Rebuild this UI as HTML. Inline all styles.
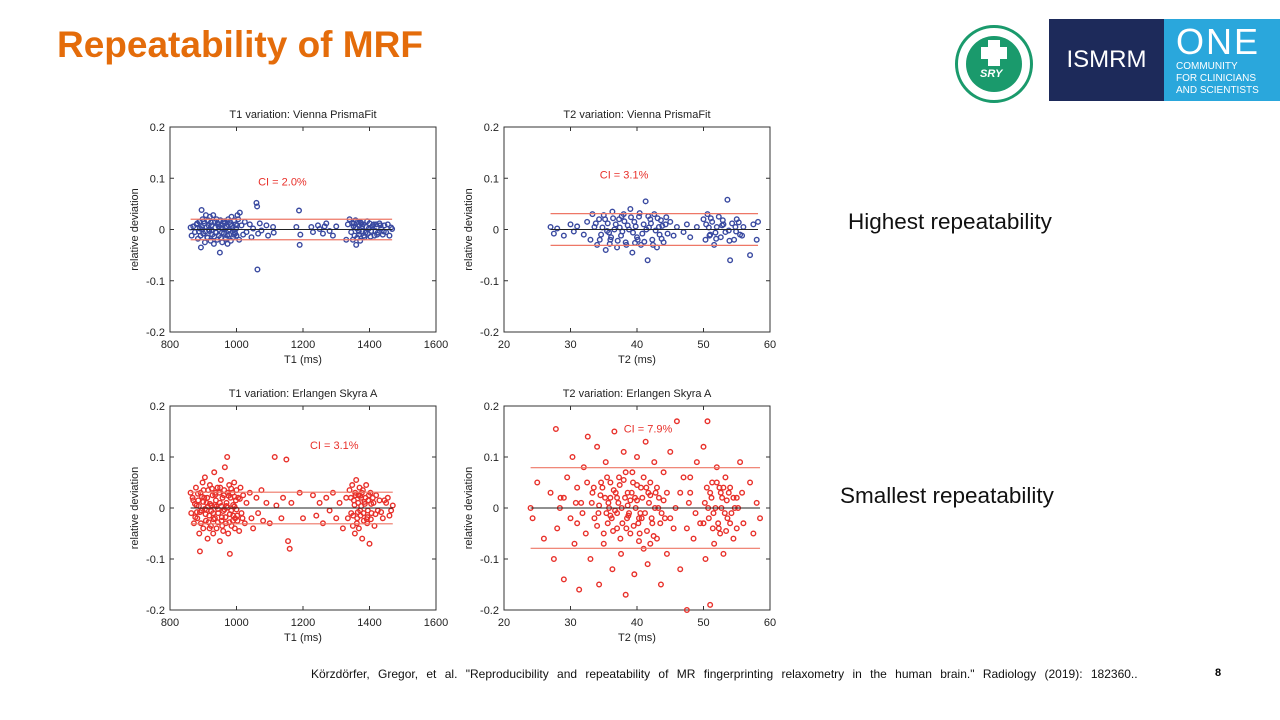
<!DOCTYPE html>
<html><head><meta charset="utf-8">
<style>
body{margin:0;width:1280px;height:720px;background:#fff;position:relative;overflow:hidden;font-family:"Liberation Sans",sans-serif}
.abs{position:absolute}
</style></head><body>
<div class="abs" style="left:57px;top:24px;font-size:37px;font-weight:bold;color:#e46c0a">Repeatability of MRF</div>
<div class="abs" style="left:955px;top:25px;width:78px;height:78px;border:3px solid #1a9a6c;border-radius:50%;box-sizing:border-box;background:#fff">
 <div style="position:absolute;left:8px;top:8px;width:56px;height:56px;border-radius:50%;background:#1a9a6c"></div>
 <div style="position:absolute;left:30px;top:12px;width:12px;height:26px;background:#fff"></div>
 <div style="position:absolute;left:23px;top:19px;width:26px;height:12px;background:#fff"></div>
 <div style="position:absolute;left:22px;top:40px;font-size:11px;font-weight:bold;font-style:italic;color:#fff">SRY</div>
</div>
<div class="abs" style="left:1049px;top:19px;width:115px;height:82px;background:#1d2a5a;color:#fff;font-size:24px;line-height:82px;text-align:center">ISMRM</div>
<div class="abs" style="left:1164px;top:19px;width:116px;height:82px;background:#2aa7dc;color:#fff">
 <div style="position:absolute;left:12px;top:2px;font-size:36px;letter-spacing:2px">ONE</div>
 <div style="position:absolute;left:12px;top:42px;font-size:10px;line-height:12px">COMMUNITY<br>FOR CLINICIANS<br>AND SCIENTISTS</div>
</div>
<div class="abs" style="left:848px;top:209px;font-size:22.5px;color:#111">Highest repeatability</div>
<div class="abs" style="left:840px;top:483px;font-size:22.5px;color:#111">Smallest repeatability</div>
<div class="abs" style="left:311px;top:667px;font-size:12px;color:#111;word-spacing:5px">Körzdörfer, Gregor, et al. "Reproducibility and repeatability of MR fingerprinting relaxometry in the human brain." Radiology (2019): 182360..</div>
<div class="abs" style="left:1215px;top:667px;font-size:11px;font-weight:bold">8</div>
<svg id="charts" class="abs" style="left:0;top:0" width="1280" height="720"></svg>
<script>
const t1Ticks=[800,1000,1200,1400,1600];
const t2Ticks=[20,30,40,50,60];
const yTicks=[0.2,0.1,0,-0.1,-0.2];
const yTickLabels=["0.2","0.1","0","-0.1","-0.2"];
const ciValues=[0.020,0.031,0.031,0.079];
const ciLabels=["CI = 2.0%","CI = 3.1%","CI = 3.1%","CI = 7.9%"];
const titles=["T1 variation: Vienna PrismaFit","T2 variation: Vienna PrismaFit","T1 variation: Erlangen Skyra A","T2 variation: Erlangen Skyra A"];
const xLabels=["T1 (ms)","T2 (ms)","T1 (ms)","T2 (ms)"];
const t1Vienna=[[862,0.004],[865,-0.012],[870,0.006],[875,-0.005],[880,0.01],[884,-0.018],[888,0.015],[890,0.002],[893,-0.035],[895,0.038],[898,0.02],[900,-0.008],[903,0.012],[905,-0.025],[908,0.028],[910,0.005],[912,-0.015],[915,0.018],[918,-0.003],[920,0.025],[922,-0.022],[925,0.008],[927,-0.01],[930,0.028],[932,-0.028],[935,0.015],[937,-0.005],[940,0.02],[942,-0.02],[945,0.01],[947,-0.012],[950,-0.045],[952,0.018],[955,0.003],[957,-0.025],[960,0.015],[962,-0.008],[965,0.012],[968,-0.018],[970,0.006],[973,-0.028],[975,0.02],[978,-0.01],[980,0.015],[983,-0.022],[985,0.025],[988,0.003],[990,-0.015],[993,0.018],[995,-0.005],[998,0.01],[1000,-0.012],[1003,0.028],[1005,0.02],[1008,-0.02],[1010,0.033],[1015,0.008],[1020,-0.01],[1025,0.015],[1030,-0.005],[1040,0.01],[1045,-0.015],[1050,0.002],[1060,0.052],[1062,0.045],[1063,-0.078],[1065,-0.008],[1070,0.012],[1075,-0.002],[1090,0.008],[1095,-0.012],[1110,0.005],[1112,-0.006],[1180,0.005],[1188,0.037],[1190,-0.03],[1192,-0.01],[1225,0.005],[1230,-0.005],[1245,0.008],[1250,0.001],[1260,-0.008],[1265,0.006],[1270,0.012],[1280,-0.003],[1290,-0.012],[1300,0.006],[1330,-0.02],[1335,0.01],[1340,0.02],[1345,-0.005],[1348,0.012],[1350,-0.02],[1352,0.006],[1355,-0.012],[1358,0.018],[1360,-0.03],[1362,0.002],[1365,0.015],[1368,-0.01],[1370,0.008],[1372,-0.022],[1375,0.012],[1378,-0.004],[1380,0.01],[1385,-0.015],[1390,0.005],[1395,-0.008],[1400,0.012],[1405,-0.003],[1410,0.008],[1415,-0.012],[1420,0.01],[1425,-0.006],[1430,0.012],[1435,0.002],[1440,-0.01],[1445,0.008],[1450,-0.005],[1455,0.01],[1460,-0.012],[1465,0.004],[1468,0.001],
[896,0.005],[906,-0.004],[916,0.008],[926,-0.002],[936,0.004],[946,0.006],[956,-0.006],[966,0.003],[976,-0.003],[986,0.007],[996,-0.008],[1358,0.004],[1368,-0.004],[1378,0.006],[1388,-0.006],[1398,0.002],[1408,0.005],[1418,-0.003],
[882,0.012],[892,-0.012],[902,0.016],[913,-0.016],[923,0.014],[933,-0.014],[943,0.012],[953,-0.016],[963,0.016],[972,-0.012],[982,0.01],[992,-0.01],[1002,0.008],[887,-0.004],[897,0.0],[917,0.0],[939,-0.006],[959,0.001],[979,0.0],[999,0.002],[1353,0.012],[1363,-0.016],[1373,0.014],[1383,-0.012],[1393,0.016],[1403,-0.014],[1413,0.01],[1423,-0.01],[1433,0.008],[1443,-0.004]];
const t2Vienna=[[27,0.005],[27.5,-0.008],[28,0.002],[29,-0.012],[30,0.01],[30.5,-0.004],[31,0.006],[32,-0.01],[32.5,0.015],[33,-0.02],[33.3,0.03],[33.6,0.005],[34,-0.03],[34.3,0.02],[34.6,-0.01],[35,0.028],[35.3,-0.04],[35.6,0.012],[36,-0.02],[36.3,0.035],[36.6,0.0],[37,-0.035],[37.3,0.02],[37.6,-0.012],[38,0.03],[38.3,-0.025],[38.6,0.008],[39,0.04],[39.3,-0.045],[39.6,0.015],[40,-0.015],[40.3,0.025],[40.6,-0.03],[41,0.01],[41.3,0.055],[41.6,-0.06],[42,0.02],[42.3,-0.02],[42.6,0.03],[43,-0.035],[43.3,0.005],[43.6,0.018],[44,-0.025],[44.3,0.01],[44.6,-0.008],[45,0.015],[45.5,-0.012],[46,0.005],[47,-0.005],[47.5,0.01],[48,-0.015],[49,0.005],[50,0.02],[50.3,-0.02],[50.6,0.03],[51,-0.01],[51.3,0.015],[51.6,-0.03],[52,0.005],[52.3,0.025],[52.6,-0.015],[53,0.01],[53.3,-0.005],[53.6,0.058],[54,-0.06],[54.3,0.012],[54.6,-0.02],[55,0.02],[55.5,-0.01],[56,0.005],[57,-0.05],[57.5,0.01],[58,-0.02],[58.2,0.015],
[34.8,0.004],[35.8,-0.006],[36.8,0.01],[37.8,-0.004],[38.8,0.0],[39.8,0.006],[40.8,-0.008],[41.8,0.004],[42.8,-0.002],[43.8,0.007],[36.1,-0.015],[38.1,0.016],[40.1,-0.02],[42.1,0.012],[50.8,0.004],[51.8,-0.006],[52.8,0.008],[53.8,-0.002],[54.8,0.005],[55.8,-0.012],
[33.8,0.012],[34.4,-0.02],[35.2,0.02],[35.9,-0.028],[36.4,0.022],[37.1,-0.022],[37.7,0.026],[38.4,-0.03],[39.1,0.024],[39.7,-0.026],[40.4,0.032],[41.1,-0.024],[41.7,0.026],[42.4,-0.03],[43.1,0.022],[43.7,-0.018],[44.4,0.024],[35.5,-0.003],[37.4,0.004],[39.4,-0.006],[41.4,0.0],[43.4,-0.01],[50.4,0.01],[51.1,0.022],[51.9,-0.018],[52.9,0.018],[53.9,-0.022],[54.9,-0.004],[55.3,0.014],[50.9,-0.012]];
const t1Erlangen=[[862,0.03],[864,-0.01],[868,0.02],[872,-0.03],[875,0.008],[878,0.04],[882,-0.02],[885,0.015],[888,-0.05],[890,-0.085],[892,0.03],[895,-0.005],[898,0.05],[900,-0.04],[903,0.02],[905,0.06],[908,-0.025],[910,0.01],[913,-0.06],[915,0.035],[918,-0.015],[920,0.045],[923,-0.035],[925,0.005],[928,0.025],[930,-0.05],[933,0.07],[935,-0.02],[938,0.015],[940,-0.04],[943,0.04],[945,-0.01],[948,0.03],[950,-0.065],[953,0.055],[955,-0.025],[958,0.02],[960,-0.045],[963,0.035],[965,0.08],[968,-0.03],[970,0.01],[972,0.1],[975,-0.05],[978,0.045],[980,-0.09],[982,0.02],[985,-0.035],[988,0.03],[990,-0.015],[993,0.05],[995,-0.04],[998,0.015],[1000,0.035],[1003,-0.025],[1005,0.02],[1008,-0.045],[1012,0.04],[1015,-0.01],[1020,0.025],[1025,-0.03],[1030,0.01],[1040,0.03],[1045,-0.02],[1050,-0.04],[1060,0.02],[1065,-0.01],[1075,0.035],[1080,-0.025],[1090,0.01],[1100,-0.03],[1115,0.1],[1120,0.005],[1135,-0.02],[1140,0.02],[1150,0.095],[1155,-0.065],[1160,-0.08],[1165,0.01],[1190,0.03],[1200,-0.02],[1230,0.025],[1240,-0.015],[1250,0.01],[1260,-0.03],[1270,0.02],[1280,-0.005],[1290,0.03],[1300,-0.02],[1310,0.01],[1320,-0.04],[1330,0.02],[1335,-0.02],[1340,0.035],[1345,-0.01],[1348,0.045],[1350,-0.035],[1353,0.015],[1356,-0.05],[1358,0.025],[1360,0.055],[1363,-0.02],[1366,0.01],[1368,-0.04],[1370,0.04],[1373,-0.015],[1375,0.02],[1378,-0.06],[1380,0.035],[1383,-0.025],[1386,0.008],[1390,0.045],[1393,-0.03],[1396,0.015],[1400,-0.07],[1403,0.03],[1406,-0.01],[1410,0.02],[1415,-0.035],[1420,0.025],[1425,-0.005],[1430,0.015],[1440,-0.02],[1450,0.01],[1460,-0.015],[1470,0.005],
[880,0.005],[890,-0.008],[900,0.012],[910,-0.004],[920,0.008],[930,-0.01],[940,0.003],[950,0.01],[960,-0.006],[970,0.004],[980,-0.012],[990,0.006],[1000,-0.003],[896,0.022],[916,-0.028],[936,0.026],[956,-0.018],[976,0.024],[996,-0.02],[1355,0.006],[1365,-0.008],[1375,0.004],[1385,0.012],[1395,-0.005],[1405,0.008],[1372,0.024],[1392,-0.022],
[870,0.015],[876,-0.018],[884,0.028],[893,-0.03],[901,0.035],[907,-0.012],[912,0.02],[919,-0.04],[926,0.038],[931,-0.022],[937,0.03],[944,-0.028],[951,0.04],[957,-0.035],[962,0.025],[967,-0.018],[973,0.03],[979,-0.028],[984,0.038],[989,-0.025],[994,0.022],[1002,-0.015],[1010,0.018],[1018,-0.02],[881,-0.008],[887,0.004],[905,-0.002],[914,0.003],[924,-0.006],[934,0.006],[944,-0.002],[954,0.004],[964,-0.003],[974,0.001],[984,-0.005],[994,0.003],[1344,0.02],[1351,-0.015],[1357,0.03],[1362,-0.03],[1367,0.025],[1372,-0.005],[1377,0.03],[1382,-0.01],[1388,0.02],[1394,-0.018],[1398,0.025],[1404,-0.022],[1412,0.01],[1418,-0.012],[1435,-0.008],[1445,0.015],[1455,0.02],[1465,-0.005]];
const t2Erlangen=[[24,0.0],[24.3,-0.02],[25,0.05],[26,-0.06],[27,0.03],[27.5,-0.1],[27.8,0.155],[28,-0.04],[28.5,0.02],[29,-0.14],[29.5,0.06],[30,-0.02],[30.3,0.1],[30.6,-0.07],[31,0.04],[31.3,-0.16],[31.6,0.01],[32,0.08],[32.3,-0.05],[32.6,0.14],[33,-0.1],[33.3,0.03],[33.6,-0.02],[34,0.12],[34.3,-0.15],[34.6,0.05],[35,-0.07],[35.3,0.09],[35.6,-0.03],[36,0.02],[36.3,-0.12],[36.6,0.15],[37,-0.04],[37.3,0.06],[37.6,-0.09],[38,0.11],[38.3,-0.17],[38.6,0.03],[39,-0.05],[39.3,0.07],[39.6,-0.13],[40,0.1],[40.3,-0.02],[40.6,0.04],[41,-0.08],[41.3,0.13],[41.6,-0.11],[42,0.05],[42.3,-0.03],[42.6,0.09],[43,-0.06],[43.3,0.02],[43.6,-0.15],[44,0.07],[44.5,-0.09],[45,0.11],[45.5,-0.04],[46,0.17],[46.5,-0.12],[47,0.06],[47.5,-0.2],[48,0.03],[48.5,-0.06],[49,0.09],[49.5,-0.03],[50,0.12],[50.3,-0.1],[50.6,0.17],[51,-0.19],[51.3,0.05],[51.6,-0.07],[52,0.08],[52.3,-0.04],[52.6,0.03],[53,-0.09],[53.3,0.06],[53.6,-0.02],[54,0.04],[54.5,-0.06],[55,0.02],[55.5,0.09],[56,-0.03],[57,0.05],[57.5,-0.05],[58,0.01],[58.5,-0.02],
[33.2,0.01],[34.2,-0.01],[35.2,0.02],[35.8,0.0],[36.2,-0.02],[36.8,0.03],[37.2,0.01],[37.8,-0.03],[38.2,0.02],[38.8,-0.01],[39.2,0.03],[39.8,0.0],[40.2,-0.03],[40.8,0.02],[41.2,-0.01],[41.8,0.01],[42.2,-0.02],[42.8,0.03],[43.2,0.0],[44.2,-0.02],[34.8,0.04],[36.4,-0.045],[37.4,0.045],[38.4,-0.04],[39.4,0.05],[40.4,-0.05],[41.4,0.04],[35.4,-0.01],[37.0,-0.01],[38.6,0.005],[40.0,0.015],[50.2,0.01],[50.8,-0.02],[51.2,0.02],[51.8,0.0],[52.2,-0.03],[52.8,0.02],[53.2,-0.01],[53.8,0.03],[54.2,-0.01],[55.2,0.0],[51.4,-0.04],[52.4,0.04],[53.4,-0.045],[28.4,0.0],[30.8,0.01],[31.8,-0.01],[45.8,0.0],[47.8,0.01],[48.8,-0.01],
[33.5,0.04],[34.0,-0.035],[34.5,0.025],[35.0,-0.05],[35.5,0.06],[36.0,-0.015],[36.5,0.035],[37.0,0.02],[37.5,-0.06],[38.0,0.055],[38.5,-0.02],[39.0,0.015],[39.5,-0.035],[40.0,0.045],[40.5,-0.01],[41.0,0.06],[41.5,-0.045],[42.0,0.025],[42.5,-0.055],[43.0,0.04],[43.5,-0.03],[44.0,0.015],[44.5,0.03],[45.0,-0.02],[34.3,0.005],[35.7,0.01],[36.7,-0.005],[37.7,0.0],[38.7,-0.015],[39.7,0.02],[40.7,-0.02],[41.7,0.03],[42.7,0.0],[43.7,-0.01],[36.0,0.05],[38.3,0.07],[40.3,-0.065],[42.0,-0.07],[50.0,-0.03],[50.5,0.04],[51.0,0.03],[51.5,-0.01],[52.0,0.05],[52.5,-0.05],[53.0,0.04],[53.5,0.015],[54.0,-0.03],[54.5,0.02],[55.0,-0.04],[55.8,0.03],[50.7,0.0],[52.7,0.0],[54.7,0.0],[29.0,0.02],[31.0,-0.03],[32.5,0.05],[46.5,0.03],[47.5,-0.04],[48.0,0.06]];
const seriesData=[t1Vienna,t2Vienna,t1Erlangen,t2Erlangen];
const xTicksAll=[t1Ticks,t2Ticks,t1Ticks,t2Ticks];
const NS="http://www.w3.org/2000/svg";
const svg=document.getElementById('charts');
const panels=[{L:170,R:436,T:127,B:332},{L:504,R:770,T:127,B:332},{L:170,R:436,T:406,B:610},{L:504,R:770,T:406,B:610}];
const colors=["#3949a0","#3949a0","#e8302a","#e8302a"];
const ciPos=[[1065,0.086],[34.4,0.1],[1221,0.116],[38,0.148]];
function mk(tag,attrs,parent){const e=document.createElementNS(NS,tag);for(const k in attrs)e.setAttribute(k,attrs[k]);(parent||svg).appendChild(e);return e;}
panels.forEach((p,i)=>{
  const xt=xTicksAll[i];const x0=xt[0],x1=xt[xt.length-1];
  const sx=v=>p.L+(v-x0)/(x1-x0)*(p.R-p.L);
  const sy=v=>p.T+(0.2-v)/0.4*(p.B-p.T);
  const g=mk('g',{});
  
  
  const box=mk('rect',{x:p.L,y:p.T,width:p.R-p.L,height:p.B-p.T,fill:'none',stroke:'#333','stroke-width':1},g);
  
  
  const t=mk('text',{x:(p.L+p.R)/2,y:p.T-9,'text-anchor':'middle','font-size':11,fill:'#222'},g);t.textContent=titles[i];
  
  
  xt.forEach(v=>{const x=sx(v);mk('line',{x1:x,x2:x,y1:p.B,y2:p.B-4,stroke:'#333'},g);mk('line',{x1:x,x2:x,y1:p.T,y2:p.T+4,stroke:'#333'},g);
    const l=mk('text',{x:x,y:p.B+16,'text-anchor':'middle','font-size':11,fill:'#222'},g);l.textContent=v;
    
    });
  yTicks.forEach((v,j)=>{const y=sy(v);mk('line',{x1:p.L,x2:p.L+4,y1:y,y2:y,stroke:'#333'},g);mk('line',{x1:p.R,x2:p.R-4,y1:y,y2:y,stroke:'#333'},g);
    const l=mk('text',{x:p.L-5,y:y+4,'text-anchor':'end','font-size':11,fill:'#222'},g);l.textContent=yTickLabels[j];
    
    });
  const xl=mk('text',{x:(p.L+p.R)/2,y:p.B+31,'text-anchor':'middle','font-size':11,fill:'#222'},g);xl.textContent=xLabels[i];
  
  
  const yl=mk('text',{x:0,y:0,'text-anchor':'middle','font-size':11,fill:'#222',transform:`translate(${p.L-32},${(p.T+p.B)/2}) rotate(-90)`},g);yl.textContent='relative deviation';
  
  
  const d=seriesData[i];let mn=Infinity,mx=-Infinity;d.forEach(q=>{mn=Math.min(mn,q[0]);mx=Math.max(mx,q[0]);});
  d.forEach(q=>{const c=mk('circle',{cx:sx(q[0]),cy:sy(q[1]),r:2.3,fill:'none',stroke:colors[i],'stroke-width':1.4},g);
    
    });
  const z=mk('line',{x1:sx(mn),x2:sx(mx),y1:sy(0),y2:sy(0),stroke:'#222','stroke-width':1},g);
  
  
  [ciValues[i],-ciValues[i]].forEach(c=>{const cl=mk('line',{x1:sx(mn),x2:sx(mx),y1:sy(c),y2:sy(c),stroke:'#ee7766','stroke-width':1.2},g);
    
    });
  const ct=mk('text',{x:sx(ciPos[i][0]),y:sy(ciPos[i][1]),'font-size':11,fill:'#e8302a'},g);ct.textContent=ciLabels[i];
  
  
});
</script>
</body></html>
